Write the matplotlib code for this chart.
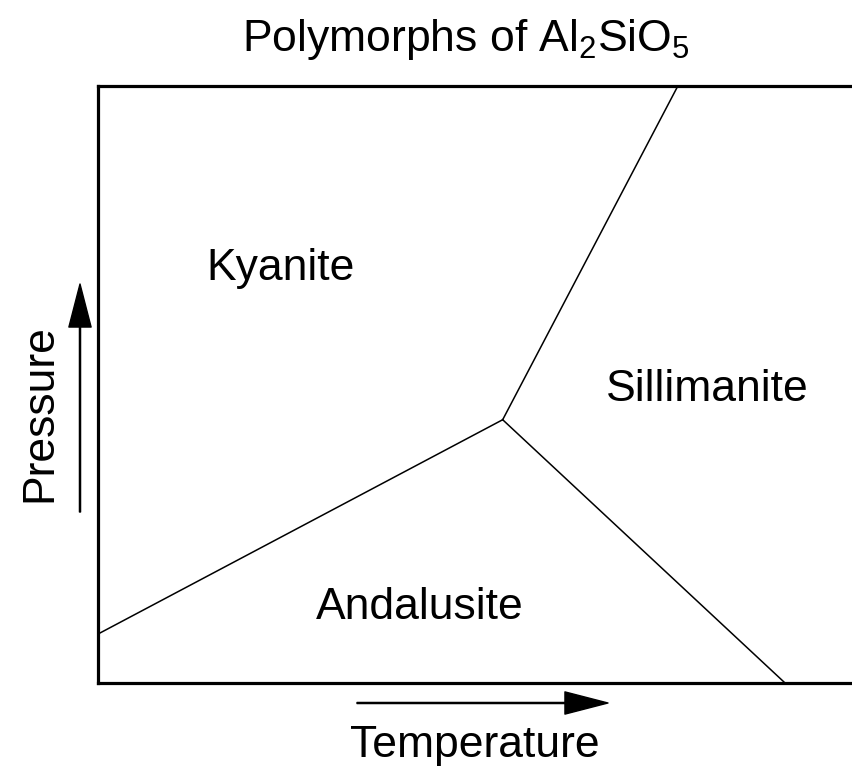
import matplotlib
matplotlib.use("Agg")
import matplotlib.pyplot as plt

plt.rcParams['font.family'] = ['Liberation Sans', 'DejaVu Sans']
plt.rcParams['mathtext.fontset'] = 'custom'
plt.rcParams['mathtext.rm'] = 'Liberation Sans'

# phase boundaries (arbitrary T, P units, 0..10)
triple = (5.36, 4.41)
ky_and = [(0.0, 0.82), triple]
ky_sil = [triple, (7.68, 10.0)]
and_sil = [triple, (9.10, 0.0)]

phases = ['Kyanite', 'Sillimanite', 'Andalusite']
phase_x = [2.42, 8.07, 4.26]
phase_y = [6.95, 4.91, 1.26]

W, H = 853, 767
fig = plt.figure(figsize=(W / 100, H / 100), dpi=100)
ax = fig.add_axes([98 / W, (H - 683) / H, 755 / W, 597 / H])
ax.set_xlim(0, 10)
ax.set_ylim(0, 10)
ax.set_xticks([])
ax.set_yticks([])
for s in ['left', 'top', 'bottom']:
    ax.spines[s].set_linewidth(2.3)
ax.spines['right'].set_visible(False)

for seg in [ky_and, ky_sil, and_sil]:
    xs = [p[0] for p in seg]
    ys = [p[1] for p in seg]
    ax.plot(xs, ys, color='black', lw=1.1, clip_on=False)

for name, x, y in zip(phases, phase_x, phase_y):
    ax.text(x, y, name, ha='center', va='center', fontsize=32)

fig.text(466 / W, 1 - 40 / H, 'Polymorphs of Al$_2$SiO$_5$', ha='center', va='center', fontsize=32)

# axis arrows
arrow = dict(facecolor='black', edgecolor='black', width=0.8, headwidth=16, headlength=31, shrink=0)
ax.annotate('', xy=(80, H - 284), xytext=(80, H - 512), xycoords='figure pixels',
            textcoords='figure pixels', arrowprops=arrow)
ax.annotate('', xy=(608, H - 703), xytext=(357, H - 703), xycoords='figure pixels',
            textcoords='figure pixels', arrowprops=arrow)

fig.text(40 / W, 1 - 413 / H, 'Pressure', rotation=90, ha='center', va='center', fontsize=32)
fig.text(475 / W, 1 - 745 / H, 'Temperature', ha='center', va='center', fontsize=32)

fig.savefig('out.png', dpi=100, facecolor='white')
